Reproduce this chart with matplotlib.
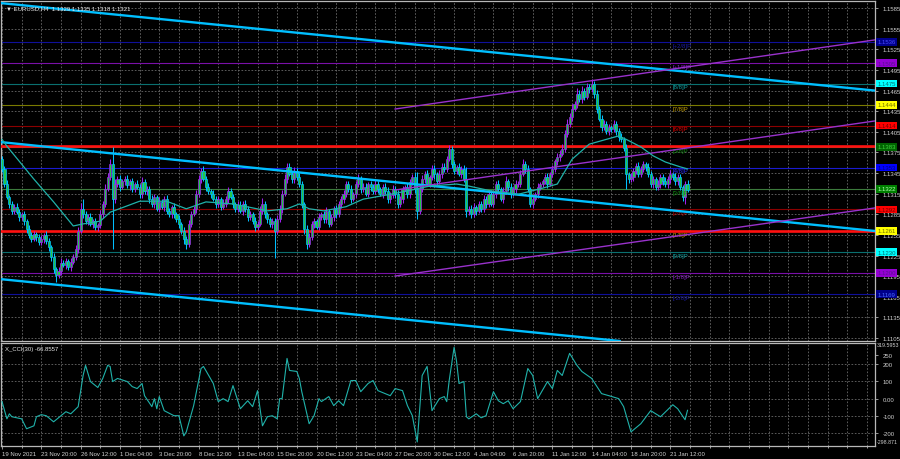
import numpy as np
import matplotlib
matplotlib.use("Agg")
import matplotlib.pyplot as plt
from matplotlib.transforms import blended_transform_factory

# H4 candles, prices in points (1351 -> 1.1351), one per bar
first_open = 1365
closes = [
    1351, 1329, 1310, 1300, 1290, 1296, 1289, 1281, 1285, 1275,
    1264, 1255, 1249, 1256, 1252, 1245, 1249, 1255, 1246, 1237,
    1223, 1205, 1197, 1202, 1214, 1211, 1217, 1208, 1215, 1223,
    1234, 1261, 1293, 1285, 1275, 1281, 1271, 1275, 1266, 1269,
    1285, 1300, 1322, 1339, 1358, 1307, 1329, 1336, 1325, 1333,
    1336, 1327, 1333, 1322, 1329, 1325, 1314, 1332, 1319, 1322,
    1307, 1300, 1310, 1293, 1303, 1296, 1307, 1290, 1285, 1296,
    1285, 1278, 1271, 1261, 1249, 1242, 1271, 1285, 1293, 1314,
    1336, 1348, 1336, 1325, 1319, 1314, 1307, 1300, 1307, 1296,
    1300, 1307, 1319, 1310, 1300, 1293, 1299, 1290, 1300, 1293,
    1281, 1285, 1275, 1267, 1271, 1290, 1300, 1285, 1278, 1271,
    1275, 1261, 1278, 1293, 1314, 1336, 1354, 1344, 1336, 1348,
    1339, 1329, 1300, 1264, 1242, 1252, 1271, 1275, 1267, 1281,
    1285, 1278, 1290, 1271, 1281, 1293, 1285, 1300, 1307, 1314,
    1329, 1322, 1307, 1314, 1329, 1336, 1322, 1325, 1314, 1329,
    1325, 1319, 1329, 1322, 1314, 1325, 1319, 1307, 1313, 1322,
    1314, 1300, 1307, 1322, 1325, 1314, 1332, 1339, 1322, 1290,
    1322, 1336, 1344, 1329, 1339, 1351, 1343, 1333, 1344, 1354,
    1351, 1365, 1380, 1358, 1348, 1354, 1344, 1351, 1336, 1290,
    1293, 1285, 1296, 1290, 1300, 1293, 1307, 1300, 1314, 1300,
    1314, 1329, 1322, 1307, 1319, 1333, 1325, 1314, 1322, 1329,
    1329, 1344, 1358, 1351, 1322, 1300, 1307, 1314, 1325, 1329,
    1333, 1339, 1329, 1344, 1351, 1362, 1368, 1373, 1380, 1402,
    1416, 1426, 1438, 1445, 1460, 1453, 1464, 1456, 1470, 1467,
    1474, 1460, 1438, 1424, 1412, 1416, 1406, 1412, 1409, 1416,
    1406, 1397, 1394, 1382, 1344, 1336, 1339, 1348, 1355, 1344,
    1351, 1358, 1354, 1344, 1329, 1336, 1325, 1329, 1339, 1333,
    1329, 1336, 1344, 1339, 1333, 1339, 1325, 1310, 1329, 1321,
]
up_wick = [
    5, 4, 6, 3, 5, 4, 6, 3, 4, 5, 3, 6, 4, 5, 3, 4, 6, 3, 5, 4,
    3, 5, 4, 6, 8, 4, 5, 3, 6, 4, 7, 6, 9, 14, 5, 4, 6, 3, 5, 4,
    6, 5, 7, 6, 8, 25, 7, 5, 6, 4, 5, 6, 4, 5, 3, 6, 4, 7, 5, 4,
    4, 6, 5, 3, 7, 4, 5, 6, 4, 3, 5, 4, 6, 3, 5, 4, 6, 5, 4, 7,
    6, 5, 7, 4, 5, 3, 6, 4, 5, 3, 7, 5, 6, 4, 5, 3, 6, 5, 4, 6,
    4, 5, 3, 6, 4, 7, 8, 5, 4, 3, 5, 4, 6, 5, 7, 8, 6, 5, 4, 6,
    5, 6, 4, 3, 5, 6, 4, 5, 3, 6, 4, 5, 6, 3, 5, 4, 6, 5, 4, 6,
    5, 4, 6, 3, 5, 7, 4, 5, 6, 3, 5, 4, 6, 5, 3, 4, 6, 5, 4, 5,
    4, 6, 5, 4, 3, 6, 5, 4, 7, 24, 5, 6, 4, 5, 3, 6, 5, 4, 6, 5,
    6, 5, 6, 4, 5, 3, 6, 4, 5, 18, 4, 5, 6, 3, 5, 4, 6, 5, 4, 6,
    5, 4, 6, 3, 5, 7, 4, 5, 3, 6, 4, 6, 7, 4, 5, 3, 6, 4, 5, 3,
    4, 5, 6, 3, 5, 4, 6, 5, 7, 6, 8, 6, 7, 5, 8, 6, 7, 5, 6, 4,
    8, 5, 6, 4, 5, 6, 4, 5, 3, 6, 4, 5, 6, 4, 5, 3, 6, 4, 5, 6,
    4, 5, 3, 6, 4, 5, 3, 6, 4, 5, 6, 4, 5, 3, 6, 4, 5, 3, 4, 6,
]
down_wick = [
    4, 5, 3, 6, 4, 5, 3, 6, 4, 5, 6, 4, 5, 3, 6, 4, 5, 6, 4, 5,
    6, 5, 11, 4, 5, 3, 6, 4, 5, 3, 4, 5, 3, 6, 4, 5, 3, 6, 4, 5,
    4, 6, 5, 3, 4, 72, 5, 4, 6, 3, 5, 4, 6, 5, 4, 3, 6, 5, 4, 6,
    5, 4, 6, 3, 5, 4, 6, 5, 4, 6, 5, 4, 6, 5, 7, 8, 4, 5, 3, 6,
    4, 5, 3, 6, 4, 5, 3, 6, 4, 5, 3, 4, 5, 3, 6, 4, 5, 3, 6, 4,
    6, 5, 4, 6, 5, 3, 4, 6, 5, 4, 6, 39, 5, 4, 6, 3, 5, 4, 6, 5,
    4, 5, 6, 7, 8, 5, 4, 6, 3, 5, 4, 6, 5, 4, 3, 6, 5, 4, 6, 5,
    4, 5, 6, 3, 5, 4, 6, 5, 3, 4, 6, 5, 4, 6, 3, 5, 4, 6, 5, 4,
    5, 6, 4, 5, 3, 6, 5, 4, 6, 12, 5, 4, 6, 3, 5, 4, 6, 5, 4, 6,
    5, 4, 3, 6, 4, 5, 3, 6, 4, 9, 6, 5, 4, 6, 3, 5, 4, 6, 5, 3,
    4, 5, 6, 3, 5, 4, 6, 5, 3, 6, 4, 5, 3, 6, 5, 4, 6, 3, 5, 4,
    5, 4, 6, 3, 5, 4, 6, 5, 3, 4, 5, 4, 6, 3, 5, 4, 6, 5, 4, 6,
    4, 6, 5, 4, 6, 5, 4, 6, 5, 4, 5, 6, 4, 5, 22, 6, 4, 5, 4, 5,
    5, 4, 6, 5, 4, 6, 5, 4, 6, 5, 4, 6, 5, 4, 6, 5, 4, 5, 10, 3,
]

# moving average, read as (bar, price points)
ma_bars = [0, 2, 13, 21, 29, 33, 40, 44, 56, 67, 75, 83, 94, 108, 116, 121, 125,
           131, 140, 147, 158, 165, 174, 185, 190, 199, 210, 219, 226, 232, 239,
           246, 251, 254, 260, 265, 270, 276, 279]
ma_pts = [1394, 1384, 1336, 1303, 1268, 1271, 1275, 1288, 1304, 1304, 1293, 1303,
          1300, 1290, 1293, 1300, 1293, 1290, 1296, 1307, 1314, 1319, 1326, 1329,
          1326, 1319, 1314, 1322, 1329, 1365, 1387, 1394, 1399, 1394, 1383, 1370,
          1361, 1354, 1351]

# CCI(30), read as (bar, value)
cci_bars = [0, 2, 3, 4, 8, 10, 13, 14, 16, 18, 21, 26, 28, 31, 33, 34, 36, 39, 41,
            43, 44, 45, 47, 51, 53, 55, 57, 58, 61, 62, 63, 64, 66, 70, 72, 74, 75,
            78, 81, 82, 86, 88, 90, 92, 94, 97, 100, 102, 104, 106, 108, 110, 112,
            113, 114, 116, 117, 120, 121, 122, 125, 127, 129, 130, 133, 135, 137,
            139, 142, 144, 146, 149, 151, 153, 158, 160, 163, 165, 167, 169, 171,
            173, 175, 178, 180, 181, 182, 184, 185, 186, 188, 189, 190, 193, 195,
            197, 200, 202, 204, 206, 208, 211, 214, 216, 218, 222, 224, 226, 228,
            231, 234, 236, 240, 244, 247, 251, 253, 256, 260, 264, 268, 273, 275,
            278, 279]
cci_vals = [-17, -116, -87, -104, -116, -173, -156, -104, -92, -98, -133, -75, -87,
            -46, 133, 191, 98, 64, 116, 191, 185, 98, 116, 98, 69, 58, 87, 17, -46,
            0, -58, 12, -69, -98, -98, -214, -191, -40, 173, 185, 87, -17, 0, -17,
            75, -58, -12, -46, 46, -156, -104, -98, -116, 0, 0, 231, 162, 156, 116,
            40, -144, -98, 0, -17, 12, -40, -12, -40, 104, 104, 40, 87, 104, 46, 17,
            58, 46, -40, -98, -249, 133, 185, -69, 0, 12, -17, 104, 295, 214, 87,
            98, -104, -116, -87, -110, -98, 40, -12, -29, -12, -58, -17, 173, 133,
            0, 98, 58, 162, 133, 260, 191, 156, 116, 29, 17, 0, -46, -191, -144,
            -69, -104, -35, -58, -121, -66.86]

# Murrey math levels
mm_values = [1.1536, 1.1505, 1.1475, 1.1444, 1.1414, 1.1383, 1.1353, 1.1322,
             1.1292, 1.1261, 1.1230, 1.1200, 1.1169]
mm_names = ["[+2/8]P", "[+1/8]P", "[8/8]P", "[7/8]P", "[6/8]P", "[5/8]P", "[4/8]P",
            "[3/8]P", "[2/8]P", "[1/8]P", "[0/8]P", "[-1/8]P", "[-2/8]P"]
mm_line_colors = ["#10109a", "#7a10a8", "#0a7070", "#7a7a00", "#8c0000", "#3c7a3c",
                  "#1a1ad0", "#3c7a3c", "#8c0000", "#7a7a00", "#0a7070", "#7a10a8",
                  "#10109a"]
mm_text_colors = ["#1a1aa0", "#8a20c8", "#10a0a0", "#c8a000", "#e00000", "#108a10",
                  "#2a2aff", "#108a10", "#b00000", "#c89000", "#10a0a0", "#8a20c8",
                  "#1a1aa0"]
mm_box_colors = ["#00008b", "#9400d3", "#00ffff", "#ffff00", "#ff0000", "#006400",
                 "#0000ff", "#008000", "#ff0000", "#ffff00", "#00ffff", "#9400d3",
                 "#00008b"]
mm_box_text = ["#4a4aff", "#5a1090", "#007070", "#707000", "#700000", "#40d040",
               "#000080", "#b0ffb0", "#700000", "#707000", "#007070", "#5a1090",
               "#4a6aff"]

# hand drawn lines: (bar, price) anchors
cyan_lines = [((0, 1.15920), (355, 1.14650)),
              ((0, 1.13898), (355, 1.12608)),
              ((0, 1.11905), (250, 1.11012))]
purple_lines = [((160, 1.14381), (355, 1.15385)),
                ((160, 1.13203), (355, 1.14206)),
                ((160, 1.11952), (355, 1.12941))]
red_levels = [1.1385, 1.1260]

price_ticks = [1.1105 + 0.003 * k for k in range(17)]
date_labels = ["19 Nov 2021", "23 Nov 20:00", "26 Nov 12:00", "1 Dec 04:00",
               "3 Dec 20:00", "8 Dec 12:00", "13 Dec 04:00", "15 Dec 20:00",
               "20 Dec 12:00", "23 Dec 04:00", "27 Dec 20:00", "30 Dec 12:00",
               "4 Jan 04:00", "6 Jan 20:00", "11 Jan 12:00", "14 Jan 04:00",
               "18 Jan 20:00", "21 Jan 12:00"]
cci_ticks = [250, 200, 100, 0, -100, -200]
cci_tick_labels = ["250", "200", "100", "0.00", "-100", "-200"]

UP = "#a020f0"
DOWN = "#00bfff"
BODY = "#22c84a"
GRID = "#6a6a6a"
FONT = "Liberation Sans"
FS = 4.3


def style_axes(ax):
    ax.set_facecolor("black")
    for s in ax.spines.values():
        s.set_color("#b8b8b8")
        s.set_linewidth(0.9)
    ax.tick_params(colors="#d0d0d0", labelsize=FS, length=2, width=0.5,
                   labelfontfamily=FONT)


def draw_candles(ax):
    c = np.array(closes) / 10000 + 1
    o = np.concatenate([[first_open / 10000 + 1], c[:-1]])
    hi = np.maximum(o, c) + np.array(up_wick) / 10000
    lo = np.minimum(o, c) - np.array(down_wick) / 10000
    idx = np.arange(len(c))
    cols = np.where(c >= o, UP, DOWN)
    ax.vlines(idx, lo, hi, colors=cols, lw=0.75, zorder=4)
    ax.bar(idx, c - o, bottom=o, width=0.85, color=BODY, edgecolor=cols,
           lw=0.5, zorder=4)


def draw_levels(ax, right):
    tr = blended_transform_factory(ax.transAxes, ax.transData)
    for v, name, lc, tc, bc, btc in zip(mm_values, mm_names, mm_line_colors,
                                        mm_text_colors, mm_box_colors, mm_box_text):
        ax.axhline(v, color=lc, lw=0.8, zorder=2)
        ax.text(273, v - 0.00012, name, color=tc, fontsize=FS, family=FONT,
                va="top", ha="left", zorder=5)
        ax.text(1.003, v, f"{v:.4f}", transform=tr, color=btc, fontsize=FS,
                family=FONT, va="center", ha="left", clip_on=False, zorder=10,
                bbox=dict(boxstyle="square,pad=0.22", fc=bc, ec="none"))
    for v in red_levels:
        ax.axhline(v, color="#ff1010", lw=1.9, zorder=3)
    for p1, p2 in cyan_lines:
        ax.axline(p1, p2, color="#00bfff", lw=1.7, zorder=5)
    for p1, p2 in purple_lines:
        slope = (p2[1] - p1[1]) / (p2[0] - p1[0])
        ax.plot([p1[0], right], [p1[1], p1[1] + slope * (right - p1[0])],
                color="#9932cc", lw=1.0, zorder=5)


def main():
    fig = plt.figure(figsize=(9, 4.6), dpi=100, facecolor="black")
    left, width = 1 / 900, 874 / 900
    ax = fig.add_axes([left, 1 - 342 / 460, width, 340 / 460])
    ax2 = fig.add_axes([left, 1 - 447 / 460, width, 103 / 460], sharex=ax)
    style_axes(ax)
    style_axes(ax2)

    x_left, x_right = -0.41, 355.3
    ax.set_xlim(x_left, x_right)
    ax.set_ylim(1.11007, 1.15952)

    draw_candles(ax)
    ax.plot(ma_bars, np.array(ma_pts) / 10000 + 1, color="#20b2aa", lw=0.9, zorder=6)
    draw_levels(ax, x_right)

    # grid and axes
    ax.set_xticks(range(0, 16 * len(date_labels), 16))
    ax.set_xticks(range(0, 356, 8), minor=True)
    ax.set_yticks(price_ticks)
    ax.set_yticklabels([f"{t:.4f}" for t in price_ticks])
    ax.yaxis.tick_right()
    ax.tick_params(axis="x", labelbottom=False, length=0, which="both")
    ax.grid(True, which="both", color=GRID, ls=(0, (2, 2)), lw=0.6, zorder=1)
    ax.set_axisbelow(True)

    ax.text(0.006, 0.988, "\u25bc EURUSD,H4  1.1329 1.1335 1.1318 1.1321",
            transform=ax.transAxes, color="#e8e8e8", fontsize=FS,
            family=[FONT, "DejaVu Sans"], va="top", ha="left", zorder=11)

    # CCI panel
    ax2.plot(cci_bars, cci_vals, color="#20b2aa", lw=0.8, zorder=4)
    ax2.set_ylim(-272, 319.6)
    ax2.set_yticks(cci_ticks)
    ax2.set_yticklabels(cci_tick_labels)
    ax2.yaxis.tick_right()
    for v in [200, 100, 0, -100, -200]:
        ax2.axhline(v, color=GRID, ls=(0, (2, 2)), lw=0.6, zorder=1)
    ax2.grid(True, axis="x", which="both", color=GRID, ls=(0, (2, 2)), lw=0.6)
    ax2.set_xticklabels(date_labels)
    for lab in ax2.get_xticklabels():
        lab.set_ha("left")
    ax2.tick_params(axis="x", which="minor", length=1.5, color="#b8b8b8")
    ax2.tick_params(axis="x", which="major", pad=1.5)

    ax2.text(0.005, 0.97, "X_CCI(30) -66.8557", transform=ax2.transAxes,
             color="#e8e8e8", fontsize=FS, family=FONT, va="top", ha="left")
    ax2.text(1.002, 0.985, "319.5953", transform=ax2.transAxes, color="#d0d0d0",
             fontsize=3.8, family=FONT, va="center", ha="left", clip_on=False)
    ax2.text(1.002, 0.04, "-298.871", transform=ax2.transAxes, color="#d0d0d0",
             fontsize=3.8, family=FONT, va="center", ha="left", clip_on=False)

    fig.savefig("out.png", dpi=100, facecolor="black")


if __name__ == "__main__":
    main()
